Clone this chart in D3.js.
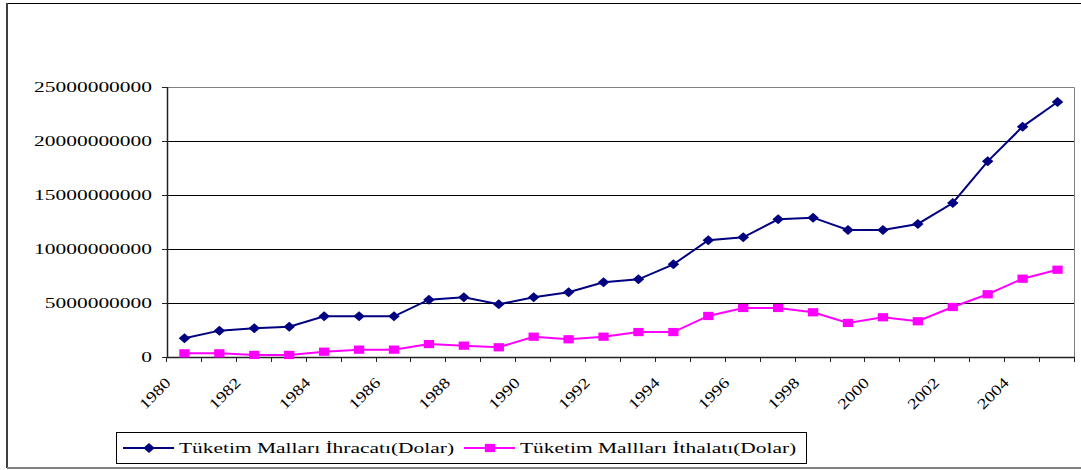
<!DOCTYPE html>
<html>
<head>
<meta charset="utf-8">
<script src="https://cdn.jsdelivr.net/npm/d3@7"></script>
<style>
  body { margin: 0; background: #fff; }
  text { font-family: "Liberation Serif", "Times New Roman", serif; font-size: 15px; fill: #000; }
</style>
</head>
<body>
<main></main>
<script>
const years = d3.range(1980, 2006);
const ihracat = [1.73e9, 2.44e9, 2.66e9, 2.81e9, 3.77e9, 3.77e9, 3.77e9, 5.31e9, 5.53e9, 4.88e9,
  5.53e9, 5.99e9, 6.92e9, 7.19e9, 8.58e9, 10.81e9, 11.08e9, 12.75e9, 12.90e9, 11.76e9,
  11.76e9, 12.32e9, 14.26e9, 18.12e9, 21.33e9, 23.61e9];
const ithalat = [0.34e9, 0.34e9, 0.19e9, 0.19e9, 0.49e9, 0.68e9, 0.68e9, 1.20e9, 1.05e9, 0.90e9,
  1.88e9, 1.64e9, 1.88e9, 2.31e9, 2.31e9, 3.80e9, 4.54e9, 4.54e9, 4.14e9, 3.15e9,
  3.68e9, 3.31e9, 4.63e9, 5.81e9, 7.25e9, 8.08e9];
const yTicks = [0, 5e9, 10e9, 15e9, 20e9, 25e9];
const xLabels = d3.range(1980, 2006, 2);
const seriesNames = ["Tüketim Malları İhracatı(Dolar)", "Tüketim Mallları İthalatı(Dolar)"];

const w = 1081, h = 470,
  plotL = 167, plotR = 1075, plotT = 87, plotB = 357,
  sx = 1.43; // the original is stretched horizontally

const svg = d3.select("main").append("svg")
  .attr("width", w)
  .attr("height", h)
  .style("display", "block");

// outer frame (right side is cut off in the original)
svg.append("line").attr("x1", 7).attr("x2", w).attr("y1", 3.5).attr("y2", 3.5)
  .attr("stroke", "#000").attr("stroke-width", 1);
svg.append("line").attr("x1", 7).attr("x2", 7).attr("y1", 3).attr("y2", 468)
  .attr("stroke", "#404040").attr("stroke-width", 2);
svg.append("line").attr("x1", 7).attr("x2", w).attr("y1", 468).attr("y2", 468)
  .attr("stroke", "#808080").attr("stroke-width", 2);

const xScale = d3.scaleBand()
  .domain(years)
  .range([plotL, plotR]);
const yScale = d3.scaleLinear()
  .domain([0, 25e9])
  .range([plotB, plotT]);

// gridlines
svg.append("g")
  .selectAll("line")
  .data(yTicks.slice(1, -1))
  .enter()
  .append("line")
  .attr("x1", plotL).attr("x2", plotR)
  .attr("y1", d => Math.round(yScale(d)) + 0.5)
  .attr("y2", d => Math.round(yScale(d)) + 0.5)
  .attr("stroke", "#000");

// plot border top / right
svg.append("path")
  .attr("d", `M${plotL},${plotT + 0.5}H${plotR - 0.5}V${plotB}`)
  .attr("fill", "none")
  .attr("stroke", "#808080");

// y axis
const yAxis = svg.append("g");
yAxis.append("line").attr("x1", plotL + 0.5).attr("x2", plotL + 0.5).attr("y1", plotT).attr("y2", plotB + 1)
  .attr("stroke", "#222").attr("stroke-width", 1.5);
yAxis.selectAll(".tk").data(yTicks).enter().append("line")
  .attr("x1", plotL - 5).attr("x2", plotL)
  .attr("y1", d => Math.round(yScale(d)) + 0.5)
  .attr("y2", d => Math.round(yScale(d)) + 0.5)
  .attr("stroke", "#222");
yAxis.selectAll("text").data(yTicks).enter().append("text")
  .attr("transform", d => `translate(152,${yScale(d)}) scale(${sx},1)`)
  .attr("text-anchor", "end")
  .attr("dy", "0.35em")
  .text(d => d3.format("d")(d));

// x axis
const xAxis = svg.append("g");
xAxis.append("line").attr("x1", plotL).attr("x2", plotR).attr("y1", plotB + 0.5).attr("y2", plotB + 0.5)
  .attr("stroke", "#222").attr("stroke-width", 1.5);
const bounds = years.map(d => xScale(d)).concat([plotR]);
xAxis.selectAll(".tk").data(bounds).enter().append("line")
  .attr("x1", d => Math.round(d) - 0.5).attr("x2", d => Math.round(d) - 0.5)
  .attr("y1", plotB).attr("y2", plotB + 5)
  .attr("stroke", "#222");
xAxis.selectAll("text").data(xLabels).enter().append("text")
  .attr("transform", d => `translate(${xScale(d) + 1},${plotB + 23}) rotate(-45) scale(1.25,1)`)
  .attr("text-anchor", "end")
  .attr("dy", "0.35em")
  .text(d => d);

// lines and markers
const cx = d => xScale(d) + xScale.bandwidth() / 2;
const line = d3.line()
  .x(d => cx(d[0]))
  .y(d => yScale(d[1]));

const series = [
  { values: ihracat, color: "#000080", shape: "diamond" },
  { values: ithalat, color: "#FF00FF", shape: "square" }
];

const diamond = d3.symbol(d3.symbolSquare, 50)();
const square = d3.symbol(d3.symbolSquare, 68)();
const markerTransform = (shape, x, y) => shape === "diamond"
  ? `translate(${x},${y}) scale(1.15,1) rotate(45)`
  : `translate(${x},${y}) scale(1.25,1)`;

series.forEach(s => {
  const pts = years.map((y, i) => [y, s.values[i]]);
  svg.append("path")
    .datum(pts)
    .attr("d", line)
    .attr("fill", "none")
    .attr("stroke", s.color)
    .attr("stroke-width", 2);
  svg.append("g").selectAll("path")
    .data(pts)
    .enter()
    .append("path")
    .attr("d", s.shape === "diamond" ? diamond : square)
    .attr("transform", d => markerTransform(s.shape, cx(d[0]), yScale(d[1])))
    .attr("fill", s.color);
});

// legend
const legend = svg.append("g");
legend.append("rect")
  .attr("x", 116.5).attr("y", 432.5).attr("width", 690).attr("height", 31)
  .attr("fill", "#fff").attr("stroke", "#000");
const legendItems = [
  { x: 123, name: seriesNames[0], s: series[0] },
  { x: 464, name: seriesNames[1], s: series[1] }
];
legendItems.forEach(it => {
  legend.append("line")
    .attr("x1", it.x).attr("x2", it.x + 51).attr("y1", 448).attr("y2", 448)
    .attr("stroke", it.s.color).attr("stroke-width", 2);
  legend.append("path")
    .attr("d", it.s.shape === "diamond" ? diamond : square)
    .attr("transform", markerTransform(it.s.shape, it.x + 26, 448))
    .attr("fill", it.s.color);
  legend.append("text")
    .attr("transform", `translate(${it.x + 56},453) scale(${sx},1)`)
    .text(it.name);
});
</script>
</body>
</html>
